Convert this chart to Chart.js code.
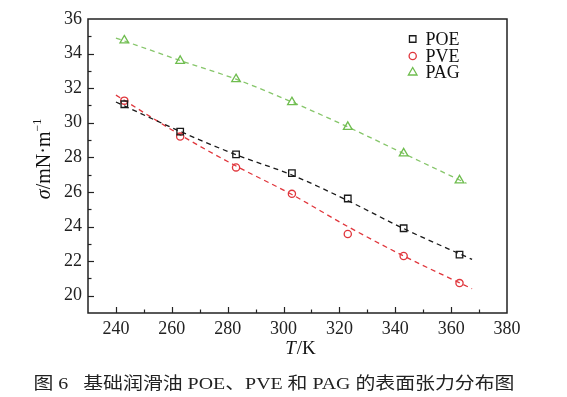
<!DOCTYPE html>
<html><head><meta charset="utf-8">
<script src="https://cdn.jsdelivr.net/npm/chart.js@4.4.0/dist/chart.umd.min.js"></script>
<style>html,body{margin:0;padding:0;background:#fff;}#wrap{width:567px;height:397px;}</style>
</head><body><div id="wrap"><canvas id="c" width="567" height="397"></canvas></div>
<script>
const temps = [243, 263, 283, 303, 323, 343, 363];
const poe = [31.07, 29.49, 28.17, 27.09, 25.62, 23.90, 22.38];
const pve = [31.28, 29.20, 27.42, 25.89, 23.57, 22.30, 20.73];
const pag = [34.76, 33.58, 32.52, 31.19, 29.76, 28.23, 26.67];
const poeFitT = [240, 263, 283, 303, 323, 343, 367.5];
const poeFit = [31.2, 29.5, 28.15, 26.98, 25.5, 23.88, 22.1];
const pveFitT = [240, 263, 283, 303, 323, 343, 367.5];
const pveFit = [31.6, 29.3, 27.5, 25.85, 24.0, 22.3, 20.4];
const pagFitT = [240, 263, 283, 303, 323, 343, 365.5];
const pagFit = [34.9, 33.6, 32.52, 31.2, 29.76, 28.22, 26.5];
const seriesNames = ['POE', 'PVE', 'PAG'];
const xTickLabels = [240, 260, 280, 300, 320, 340, 360, 380];
const yTickLabels = [20, 22, 24, 26, 28, 30, 32, 34, 36];
const caption = '图 6\u2002 基础润滑油 POE、PVE 和 PAG 的表面张力分布图';

const BLACK = '#1a1a1a', RED = '#e0363c', GREEN = '#6fbd4f', GREENL = '#86c66a';
const pts = (xs, ys) => xs.map((x, i) => ({x, y: ys[i]}));
const SERIF = "'Liberation Serif', 'DejaVu Serif', serif";

const lineDs = (xs, ys, c) => ({type: 'line', data: pts(xs, ys), borderColor: c, borderWidth: 1.3,
  borderDash: [5, 4], pointRadius: 0, fill: false, cubicInterpolationMode: 'monotone', order: 2});
const markDs = (label, ys, c, style, r) => ({type: 'scatter', label, data: pts(temps, ys), borderColor: c,
  backgroundColor: 'rgba(0,0,0,0)', pointStyle: style, pointRadius: r, pointBorderWidth: 1.3, order: 1, showLine: false});

const deco = {
  id: 'deco',
  afterDraw(chart) {
    const ctx = chart.ctx, a = chart.chartArea, xs = chart.scales.x, ys = chart.scales.y;
    ctx.save();
    ctx.strokeStyle = '#222'; ctx.lineWidth = 1.5;
    ctx.strokeRect(a.left, a.top, a.right - a.left, a.bottom - a.top);
    ctx.lineWidth = 1.2;
    for (let v = 240; v <= 370; v += 10) {
      const px = Math.round(xs.getPixelForValue(v)) + 0.5;
      const len = v % 20 === 0 ? 6 : 3.5;
      ctx.beginPath(); ctx.moveTo(px, a.bottom); ctx.lineTo(px, a.bottom - len); ctx.stroke();
    }
    for (let v = 20; v <= 35; v += 1) {
      const py = Math.round(ys.getPixelForValue(v)) + 0.5;
      const len = v % 2 === 0 ? 6 : 3.5;
      ctx.beginPath(); ctx.moveTo(a.left, py); ctx.lineTo(a.left + len, py); ctx.stroke();
    }
    // legend
    const metas = [1, 3, 5];
    const rows = [39, 56, 72.5];
    metas.forEach((di, i) => {
      const ds = chart.data.datasets[di];
      ctx.save();
      ctx.strokeStyle = ds.borderColor; ctx.fillStyle = 'rgba(0,0,0,0)'; ctx.lineWidth = 1.3;
      Chart.helpers.drawPoint(ctx, {pointStyle: ds.pointStyle, radius: ds.pointRadius, borderWidth: 1.3}, 412.7, rows[i]);
      ctx.restore();
      ctx.font = '18px ' + SERIF; ctx.fillStyle = '#111'; ctx.textBaseline = 'middle'; ctx.textAlign = 'left';
      ctx.fillText(seriesNames[i], 425.5, rows[i] + 1);
    });
    // x title
    ctx.fillStyle = '#111'; ctx.textBaseline = 'middle';
    ctx.font = 'italic 19px ' + SERIF;
    const tW = ctx.measureText('T').width;
    ctx.font = '19px ' + SERIF;
    const kW = ctx.measureText('/K').width;
    let x0 = 300 - (tW + kW) / 2;
    ctx.font = 'italic 19px ' + SERIF; ctx.textAlign = 'left'; ctx.fillText('T', x0, 349);
    ctx.font = '19px ' + SERIF; ctx.fillText('/K', x0 + tW + 1, 349);
    // y title
    ctx.save();
    ctx.translate(45, 159); ctx.rotate(-Math.PI / 2);
    ctx.font = 'italic 20px ' + SERIF;
    const sW = ctx.measureText('σ').width;
    ctx.font = '20px ' + SERIF;
    const mW = ctx.measureText('/mN·m').width;
    ctx.font = '12px ' + SERIF;
    const eW = ctx.measureText('−1').width;
    let sx = -(sW + mW + eW) / 2;
    ctx.font = 'italic 20px ' + SERIF; ctx.fillText('σ', sx, 0);
    ctx.font = '20px ' + SERIF; ctx.fillText('/mN·m', sx + sW, 0);
    ctx.font = '12px ' + SERIF; ctx.fillText('−1', sx + sW + mW, -7);
    ctx.restore();
    // caption
    ctx.font = "17px 'Liberation Serif', 'Noto Sans CJK SC', serif";
    ctx.fillStyle = '#222'; ctx.textAlign = 'left'; ctx.textBaseline = 'middle';
    const cw = ctx.measureText(caption).width;
    ctx.save(); ctx.translate(33.5, 385); ctx.scale(481 / cw, 1); ctx.fillText(caption, 0, 0); ctx.restore();
    ctx.restore();
  }
};

new Chart(document.getElementById('c'), {
  data: {
    datasets: [
      lineDs(poeFitT, poeFit, BLACK), markDs('POE', poe, BLACK, 'rect', 4.6),
      lineDs(pveFitT, pveFit, RED), markDs('PVE', pve, RED, 'circle', 3.6),
      lineDs(pagFitT, pagFit, GREENL), markDs('PAG', pag, GREEN, 'triangle', 5)
    ]
  },
  options: {
    responsive: false, animation: false, devicePixelRatio: 1,
    layout: {padding: {top: 19, right: 60, left: 0, bottom: 0}},
    plugins: {legend: {display: false}, tooltip: {enabled: false}},
    scales: {
      x: {type: 'linear', min: 230, max: 380,
        afterFit: s => { s.height = 84; },
        grid: {display: false, drawTicks: false}, border: {display: false},
        ticks: {stepSize: 10, padding: 5, autoSkip: false, maxRotation: 0, color: '#222', font: {family: SERIF, size: 18},
          callback: v => xTickLabels.includes(v) ? String(v) : ''}},
      y: {type: 'linear', min: 19, max: 36,
        afterFit: s => { s.width = 88; },
        grid: {display: false, drawTicks: false}, border: {display: false},
        ticks: {stepSize: 1, padding: 6, autoSkip: false, color: '#222', font: {family: SERIF, size: 18},
          callback: v => yTickLabels.includes(v) ? String(v) : ''}}
    }
  },
  plugins: [deco]
});
</script></body></html>
